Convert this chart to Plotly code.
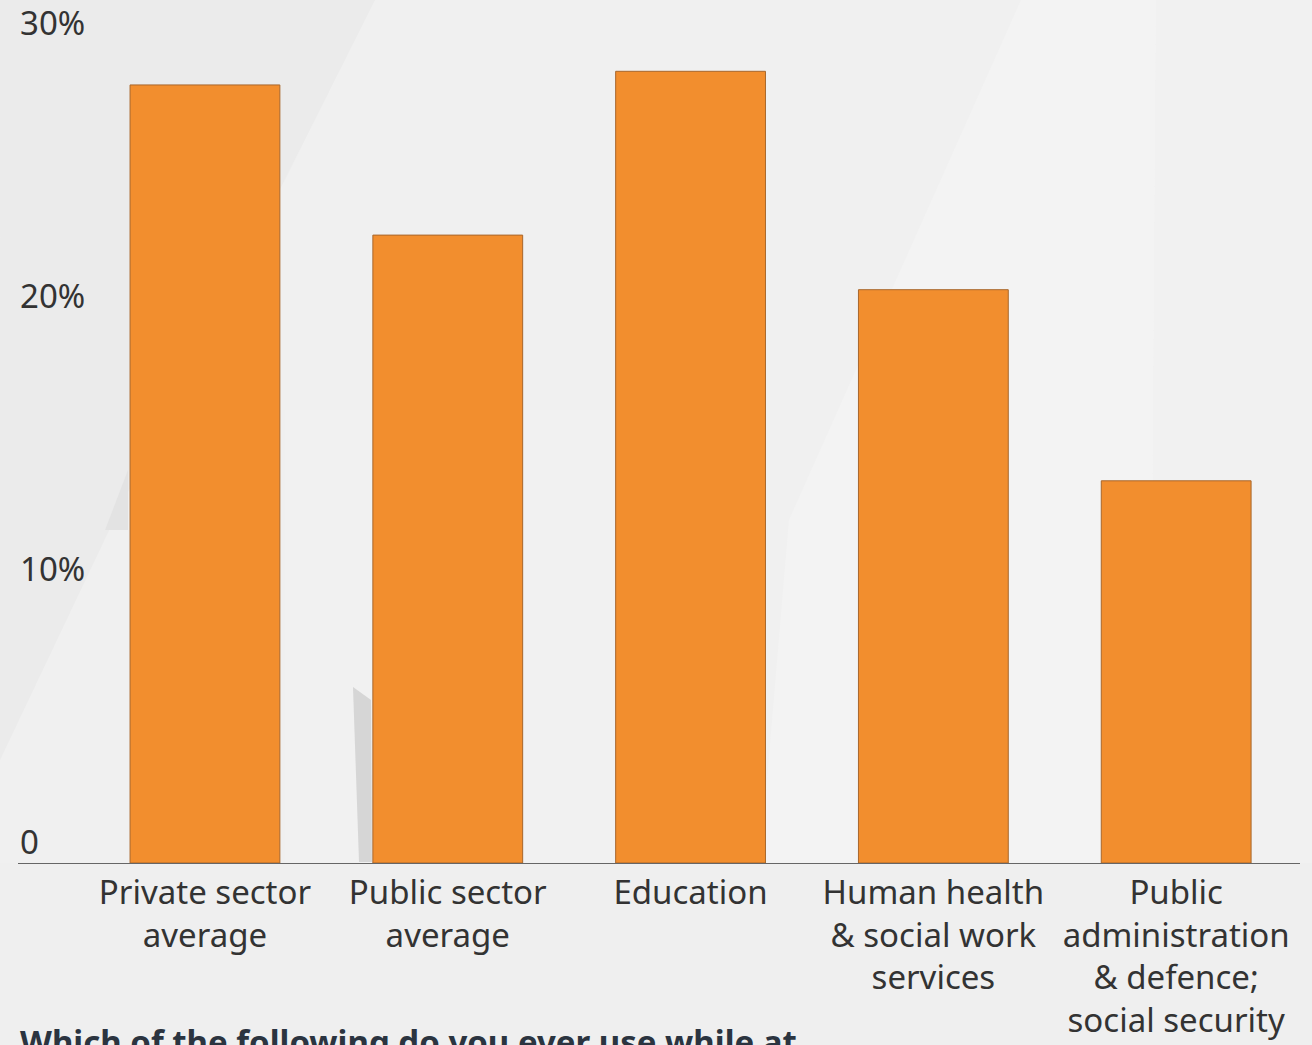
import plotly.graph_objects as go

# Share of workers by sector (percent)
categories = [
    "Private sector<br>average",
    "Public sector<br>average",
    "Education",
    "Human health<br>& social work<br>services",
    "Public<br>administration<br>& defence;<br>social security",
]
values = [28.5, 23.0, 29.0, 21.0, 14.0]
y_ticks = [0, 10, 20, 30]
y_tick_text = ["0", "10%", "20%", "30%"]

BAR = "#f28e2e"
TEXT = "#333333"
FONT = "Noto Sans"

W, H = 1312, 1045
ml, mr, mt, mb = 18, 12, 44, 182
pw, ph = W - ml - mr, H - mt - mb

fig = go.Figure(
    go.Bar(
        x=categories,
        y=values,
        marker=dict(color=BAR, line=dict(color="#a8672c", width=1)),
        hoverinfo="x+y",
    )
)


def px_path(points):
    """Build an SVG path in paper coordinates from pixel points."""
    parts = []
    for i, (x, y) in enumerate(points):
        px = (x - ml) / pw
        py = (H - mb - y) / ph
        parts.append(("M" if i == 0 else "L") + f" {px:.4f} {py:.4f}")
    return " ".join(parts) + " Z"


# Soft geometric backdrop panels
backdrop = [
    ([(0, 0), (375, 0), (114, 520), (0, 760)], "#ebebeb"),
    ([(286, 410), (615, 410), (615, 863), (286, 863)], "#f1f1f1"),
    ([(1021, 0), (1156, 0), (1150, 863), (760, 863), (789, 520)], "#f3f3f3"),
    ([(1156, 0), (1312, 0), (1312, 863), (1150, 863)], "#f1f1f1"),
    ([(105, 530), (128, 470), (128, 530)], "#e3e3e3"),
    ([(353, 687), (371, 700), (372, 862), (359, 862)], "#d6d6d6"),
    ([(0, 863), (1312, 863), (1312, 1045), (0, 1045)], "#efefef"),
]
for pts, col in backdrop:
    fig.add_shape(
        type="path", path=px_path(pts), xref="paper", yref="paper",
        fillcolor=col, line=dict(width=0), layer="below",
    )

# Value-axis labels sit just above their reference levels
for v, t in zip(y_ticks, y_tick_text):
    fig.add_annotation(
        text=t, xref="paper", yref="y", x=0, y=v,
        xanchor="left", yanchor="bottom", yshift=-3, showarrow=False,
        font=dict(family=FONT, size=33, color=TEXT),
    )

fig.add_annotation(
    text="<b>Which of the following do you ever use while at</b>",
    xref="paper", yref="paper",
    x=0, y=(H - mb - 1017) / ph,
    xanchor="left", yanchor="top",
    showarrow=False,
    font=dict(family=FONT, size=33, color="#2b3440"),
)

fig.update_layout(
    width=W,
    height=H,
    margin=dict(l=ml, r=mr, t=mt, b=mb),
    paper_bgcolor="#f0f0f0",
    plot_bgcolor="rgba(0,0,0,0)",
    bargap=0.383,
    showlegend=False,
    font=dict(family=FONT, size=33, color=TEXT),
    xaxis=dict(
        range=[-0.77, 4.51],
        automargin=False,
        showline=True,
        linecolor="#666666",
        linewidth=1,
        showgrid=False,
        ticks="",
        tickfont=dict(family=FONT, size=33, color=TEXT),
    ),
    yaxis=dict(
        range=[0, 30],
        automargin=False,
        showticklabels=False,
        showgrid=False,
        zeroline=False,
        showline=False,
        ticks="",
    ),
)

fig.write_html("out.html")
